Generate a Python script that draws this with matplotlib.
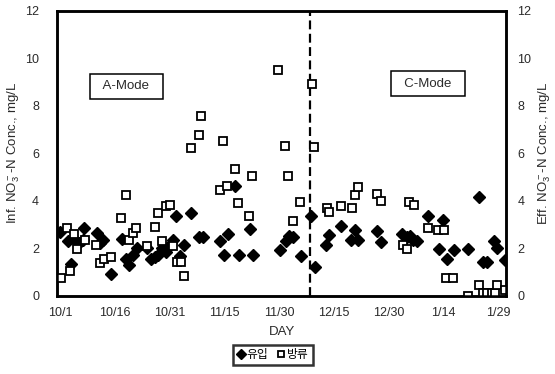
import matplotlib
matplotlib.use("Agg")
import matplotlib.pyplot as plt
from matplotlib.lines import Line2D

plt.rcParams["font.family"] = ["Liberation Sans", "Noto Sans CJK KR", "DejaVu Sans"]
plt.rcParams["mathtext.fontset"] = "custom"
plt.rcParams["mathtext.rm"] = "Liberation Sans"

# Days counted from 10/1
inf_day = [0.0, 2.0, 2.9, 4.1, 5.0, 6.1, 6.6, 10.0, 10.9, 11.8, 13.9, 16.8, 18.0, 18.9,
           20.0, 20.9, 23.9, 25.0, 25.9, 26.8, 28.0, 29.0, 30.0, 30.9, 31.8, 32.9, 34.0,
           35.8, 38.1, 39.0, 43.9, 44.9, 46.1, 47.9, 49.0, 52.0, 52.9, 60.1, 61.8, 62.8,
           63.7, 65.9, 68.7, 69.8, 72.8, 73.7, 76.9, 79.7, 80.8, 81.7, 86.7, 87.8, 93.6,
           95.0, 95.9, 96.8, 97.7, 100.9, 103.9, 105.0, 106.1, 107.9, 111.8, 114.8, 115.9,
           117.0, 118.9, 119.8, 122.0]
inf_val = [2.70, 2.31, 1.33, 2.34, 2.23, 2.34, 2.85, 2.64, 2.23, 2.34, 0.91, 2.40, 1.56, 1.29,
           1.71, 2.03, 2.03, 1.55, 1.65, 1.71, 2.00, 1.85, 2.15, 2.37, 3.35, 1.68, 2.15,
           3.48, 2.46, 2.46, 2.31, 1.71, 2.59, 4.62, 1.71, 2.81, 1.71, 1.95, 2.29, 2.51,
           2.46, 1.67, 3.35, 1.20, 2.16, 2.55, 2.93, 2.37, 2.76, 2.37, 2.73, 2.26, 2.62,
           2.46, 2.51, 2.34, 2.31, 3.35, 1.97, 3.19, 1.53, 1.92, 1.99, 4.17, 1.43,
           1.43, 2.29, 2.03, 1.50]

eff_day = [0.2, 1.8, 2.7, 3.8, 4.7, 6.8, 9.9, 10.8, 11.9, 13.9, 16.7, 17.9, 18.9, 19.9, 20.8,
           23.9, 25.9, 26.7, 28.0, 29.0, 30.0, 31.0, 32.1, 33.0, 34.0, 35.8, 37.9, 38.5,
           43.8, 44.5, 45.8, 47.9, 48.8, 51.8, 52.5, 59.8, 61.6, 62.5, 63.7, 65.7, 68.9,
           69.6, 73.0, 73.7, 76.9, 79.9, 80.8, 81.7, 86.7, 87.9, 93.8, 95.0, 95.6, 96.9,
           100.9, 103.6, 105.2, 105.7, 107.7, 111.8, 114.8, 115.8, 117.0, 118.2, 119.1,
           119.8, 121.9]
eff_val = [0.73, 2.84, 1.05, 2.60, 1.99, 2.37, 2.13, 1.40, 1.53, 1.64, 3.28, 4.26, 2.37, 2.63,
           2.84, 2.10, 2.89, 3.47, 2.30, 3.80, 3.84, 2.09, 1.43, 1.43, 0.82, 6.23, 6.79, 7.59,
           4.45, 6.51, 4.64, 5.34, 3.89, 3.35, 5.03, 9.49, 6.33, 5.03, 3.14, 3.96, 8.90,
           6.28, 3.70, 3.52, 3.78, 3.70, 4.24, 4.59, 4.27, 3.99, 2.13, 1.99, 3.94, 3.82,
           2.84, 2.76, 2.76, 0.77, 0.73, 0.00, 0.44, 0.10, 0.10, 0.12, 0.12,
           0.44, 0.23]

tick_days = [0, 15, 30, 45, 60, 75, 90, 105, 120]
tick_labels = ["10/1", "10/16", "10/31", "11/15", "11/30", "12/15", "12/30", "1/14", "1/29"]
y_ticks = [0, 2, 4, 6, 8, 10, 12]
mode_switch_day = 68.5

txt = "#2a2a2a"

fig = plt.figure(figsize=(5.55, 3.74), dpi=100)
ax = fig.add_axes([0.103, 0.209, 0.809, 0.762])

ax.plot(inf_day, inf_val, linestyle="none", marker="D", markersize=6,
        color="black", label="유입", zorder=3)
ax.plot(eff_day, eff_val, linestyle="none", marker="s", markersize=5.5,
        markerfacecolor="white", markeredgecolor="black", markeredgewidth=1.3,
        label="방류", zorder=3)

ax.axvline(mode_switch_day, color="black", linestyle=(0, (4, 2)), linewidth=1.6, zorder=2)

ax.set_xlim(-0.85, 122.2)
ax.set_ylim(0, 12)
ax.set_xticks(tick_days)
ax.set_xticklabels(tick_labels)
ax.set_yticks(y_ticks)
ax.tick_params(axis="both", length=0, labelsize=9, colors=txt)
ax.tick_params(axis="y", pad=13)
ax.tick_params(axis="x", pad=8)
for sp in ax.spines.values():
    sp.set_linewidth(1.8)

ax.set_xlabel("DAY", fontsize=9.5, color=txt, labelpad=5)
ax.set_ylabel("Inf. NO$_3^-$-N Conc., mg/L", fontsize=9.5, color=txt, labelpad=2)

ax2 = ax.twinx()
ax2.set_ylim(0, 12)
ax2.set_yticks(y_ticks)
ax2.tick_params(axis="y", length=0, labelsize=9, colors=txt, pad=8)
ax2.set_ylabel("Eff. NO$_3^-$-N Conc., mg/L", fontsize=9.5, color=txt,
               rotation=90, labelpad=4)
for sp in ax2.spines.values():
    sp.set_linewidth(1.8)

box = dict(boxstyle="square,pad=0.5", facecolor="white", edgecolor="black", linewidth=1.1)
ax.text(0.154, 0.735, "  A-Mode  ", transform=ax.transAxes, ha="center", va="center",
        fontsize=9.5, color=txt, bbox=box)
ax.text(0.826, 0.744, "  C-Mode  ", transform=ax.transAxes, ha="center", va="center",
        fontsize=9.5, color=txt, bbox=box)

handles = [Line2D([], [], linestyle="none", marker="D", markersize=5, color="black"),
           Line2D([], [], linestyle="none", marker="s", markersize=5,
                  markerfacecolor="white", markeredgecolor="black", markeredgewidth=1.3)]
leg = fig.legend(handles, ["유입", "방류"], loc="center", bbox_to_anchor=(0.492, 0.05),
                 ncol=2, fontsize=8.5, frameon=True, fancybox=False, handlelength=0.6,
                 handletextpad=0.2, columnspacing=0.8, borderpad=0.35, borderaxespad=0)
leg.get_frame().set_edgecolor("black")
leg.get_frame().set_linewidth(1.8)

fig.savefig("out.png", dpi=100)
